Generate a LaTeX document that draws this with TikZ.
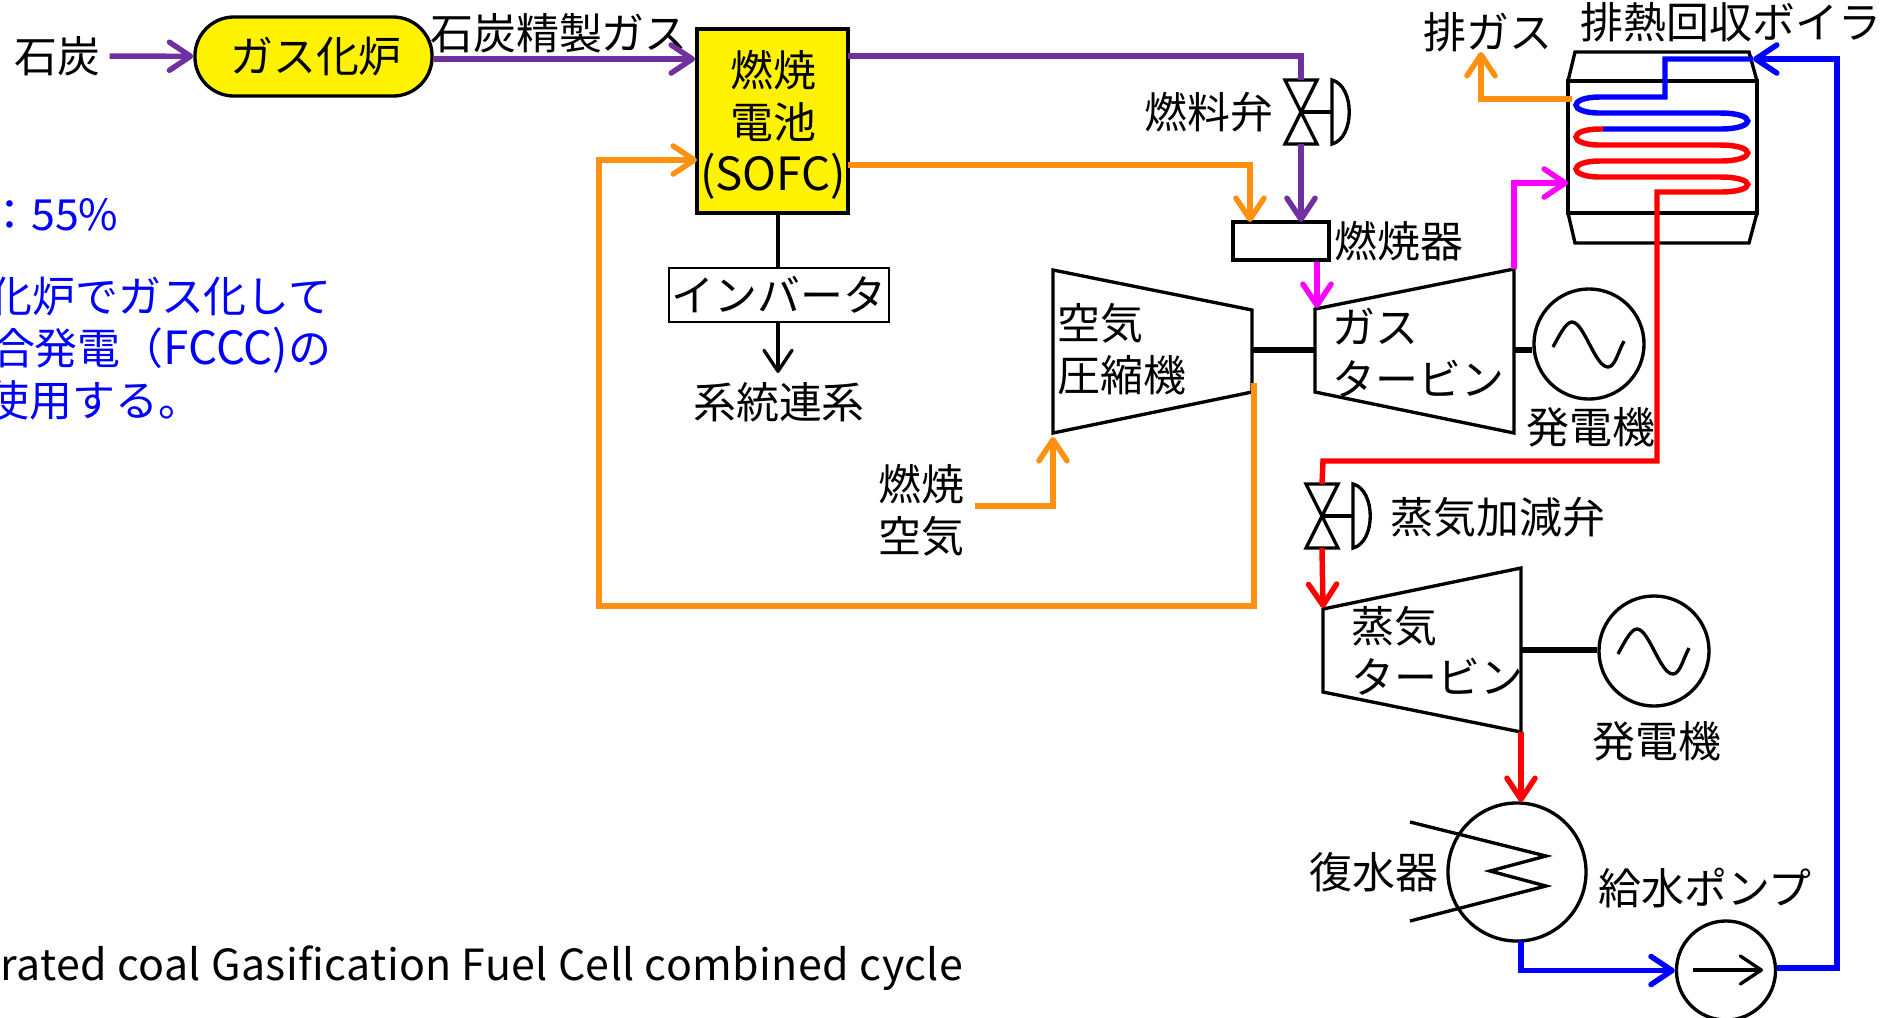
\documentclass[tikz,border=0pt]{standalone}
\usepackage{fontspec}
\setmainfont{Noto Sans CJK JP}
\usetikzlibrary{arrows.meta}

\definecolor{fuelpurple}{HTML}{7030A0}
\definecolor{airorange}{HTML}{FF9010}
\definecolor{gasmagenta}{HTML}{FF00FF}

\tikzset{
    flow/.style={line width=1.55pt, line join=miter, ->},
    pipe/.style={line width=1.55pt},
    shaft/.style={line width=1.9pt},
    label/.style={inner sep=0pt, text=black},
    note/.style={inner sep=0pt, anchor=east, text=blue},
    unitbox/.style={draw, inner sep=0pt}
}

\begin{document}
\begin{tikzpicture}[>={Straight Barb[length=6pt,width=8pt,round]}, line width=0.95pt, x=0.01cm, y=-0.01cm,
    font=\fontsize{12.2}{14.7}\selectfont]
    \useasboundingbox (0,0) rectangle (1887,1017);

    % Blue notes
    \node[note] (rate) at (120,215) {：55\%};
    \node[note] (notea) at (333,297) {化炉でガス化して};
    \node[note] (noteb) at (333,350) {合発電（{\fontsize{13}{14.7}\selectfont FCCC)}の};
    \node[note] (notec) at (203,400) {使用する。};
    \node[label, anchor=east] (fullname) at (965,968) {\addfontfeature{LetterSpace=1}rated coal Gasification Fuel Cell combined cycle};

    % Coal and gasifier
    \node[label, inner sep=0.08cm] (coal) at (57,56) {石炭};
    \node[unitbox, fill=yellow, rounded corners=0.39cm, minimum width=2.37cm, minimum height=0.79cm] (gasifier) at (313.5,56.5) {\hspace*{0.05cm}ガス化炉};
    \draw[flow, fuelpurple] (coal) -- (gasifier);

    % Fuel cell and inverter
    \node[unitbox, fill=yellow, line width=1.1pt, minimum width=1.51cm, minimum height=1.84cm] (fuelcell) at (772.5,121) {};
    \node[label, align=center] (fuelcellname) at (773,125) {燃焼\\電池\\{\fontsize{13}{14.7}\selectfont(SOFC)}};
    \node[unitbox, line width=0.7pt, minimum width=2.2cm, minimum height=0.54cm] (inverter) at (779,295) {\raisebox{0.03cm}{インバータ}};
    \node[label] (grid) at (779,402) {系統連系};
    \coordinate (gridin) at (778,373);
    \node[label] (refined) at (559,33) {石炭精製ガス};
    \draw[flow, fuelpurple] (gasifier.east |- 0,59) -- (fuelcell.west |- 0,59);
    \draw (fuelcell.south -| gridin) -- (inverter.north -| gridin);
    \draw[->] (inverter.south -| gridin) -- (gridin);

    % Valves
    \foreach \vx/\vy/\vname in {1301/112/fuelvalve, 1322/516/steamvalve} {
        \coordinate (\vname-in) at (\vx,\vy-32);
        \coordinate (\vname-out) at (\vx,\vy+32);
        \draw (\vx-16,\vy-32) -- (\vx+16,\vy-32) -- (\vx-16,\vy+32) -- (\vx+16,\vy+32) -- cycle;
        \draw (\vx,\vy) -- (\vx+31,\vy);
        \draw (\vx+31,\vy-32) .. controls (\vx+54,\vy-26) and (\vx+54,\vy+26) .. (\vx+31,\vy+32) -- cycle;
    }
    \node[label] (fuelvalvename) at (1209,112) {燃料弁};
    \node[label] (steamvalvename) at (1498,517) {蒸気加減弁};

    % Combustor
    \node[unitbox, minimum width=0.96cm, minimum height=0.38cm] (combustor) at (1281,241) {};
    \node[label] (combustorname) at (1399,241) {燃焼器};
    \coordinate (fcfuel) at (848,56);
    \coordinate (fcair) at (848,165);
    \coordinate (airin) at (1250,222);
    \coordinate (fuelin) at (1301,222);
    \draw[pipe, fuelpurple] (fcfuel) -| (fuelvalve-in);
    \draw[flow, fuelpurple] (fuelvalve-out) -- (fuelin);
    \draw[flow, airorange] (fcair) -| (airin);

    % Compressor and gas turbine
    \draw (1053,270) coordinate (compin) -- (1252,310) -- (1252,392) -- (1053,433) -- cycle;
    \node[label, anchor=west, align=left] (compname) at (1056,349) {空気\\圧縮機};
    \draw (1315,309) -- (1514,269) coordinate (gasout) -- (1514,433) -- (1315,392) -- cycle;
    \node[label, anchor=west, align=left] (gasname) at (1331,353) {ガス\\タービン};
    \coordinate (gasin) at (1317,308);
    \draw[shaft] (1252,350) -- (1315,350);
    \draw[flow, gasmagenta] (gasin |- combustor.south) -- (gasin);

    % Generators
    \foreach \gx/\gy/\gname/\sx/\sy in {1589/344/gasgen/1514/350, 1654/651/steamgen/1521/650} {
        \node[draw, circle, inner sep=0pt, minimum size=1.1cm] (\gname) at (\gx,\gy) {};
        \draw[shaft] (\sx,\sy) -- (\gname.west |- 0,\sy);
        \draw (\gx-36,\gy+3) .. controls (\gx-27,\gy-14) and (\gx-22,\gy-22) .. (\gx-17,\gy-22)
            .. controls (\gx-5,\gy-22) and (\gx+6,\gy+23) .. (\gx+19,\gy+23)
            .. controls (\gx+26,\gy+23) and (\gx+29,\gy+8) .. (\gx+35,\gy-3);
    }
    \node[label] (gasgenname) at (1591,427) {発電機};
    \node[label] (steamgenname) at (1657,741) {発電機};

    % Combustion air
    \node[label, align=center] (airname) at (921,510) {燃焼\\空気};
    \coordinate (airstart) at (975,506);
    \coordinate (compair) at (1053,437);
    \draw[flow, airorange] (airstart) -| (compair);
    \coordinate (compout) at (1254,383);
    \coordinate (fcin) at (697,160);
    \draw[flow, airorange] (compout) -- (1254,606) -- (599,606) |- (fcin);

    % Heat recovery boiler
    \draw (1568,81) rectangle (1757,213);
    \draw (1568,81) -- (1575,52) -- (1749,52) -- (1757,81);
    \draw (1568,213) -- (1575,243) -- (1749,243) -- (1757,213);
    \node[label] (hrsgname) at (1731,22) {排熱回収ボイラ};
    \node[label] (exhaust) at (1488,32) {排ガス};
    \draw[pipe, blue] (1753,59) -- (1665,59) -- (1665,97) -- (1600,97)
        .. controls (1568,97) and (1568,113) .. (1600,113) -- (1720,113)
        .. controls (1757,113) and (1757,129) .. (1720,129) -- (1603,129);
    \draw[pipe, red] (1603,129) -- (1600,129)
        .. controls (1568,129) and (1568,145) .. (1600,145) -- (1720,145)
        .. controls (1757,145) and (1757,161) .. (1720,161) -- (1600,161)
        .. controls (1568,161) and (1568,177) .. (1600,177) -- (1720,177)
        .. controls (1757,177) and (1757,192) .. (1720,192) -- (1657,192)
        -- (1657,461) -- (1323,461) -- (steamvalve-in);
    \draw[flow, airorange] (1572,99) -| (1481,52);
    \draw[flow, gasmagenta] (gasout) |- (1568,183);

    % Steam turbine
    \draw (1323,609) -- (1521,568) -- (1521,732) coordinate (steamout) -- (1323,692) -- cycle;
    \node[label, anchor=west, align=left] (steamname) at (1350,651) {蒸気\\タービン};
    \draw[flow, red] (steamvalve-out) -- (1323,608);

    % Condenser and pump
    \node[draw, circle, inner sep=0pt, minimum size=1.38cm] (condenser) at (1517,872) {};
    \draw (1410,822) -- (1546,856) -- (1490,871) -- (1546,886) -- (1410,921);
    \node[label] (condensername) at (1374,872) {復水器};
    \node[draw, circle, inner sep=0pt, minimum size=0.99cm] (pump) at (1726,970.5) {};
    \draw[->] (1693,970) -- (1763,970);
    \node[label] (pumpname) at (1705,888) {給水ポンプ};
    \draw[flow, red] (steamout) -- (1521,802);
    \draw[flow, blue] (1521,941) |- (pump.west);
    \draw[flow, blue] (pump.east |- 0,968) -- (1837,968) -- (1837,59) -- (1753,59);
\end{tikzpicture}
\end{document}
